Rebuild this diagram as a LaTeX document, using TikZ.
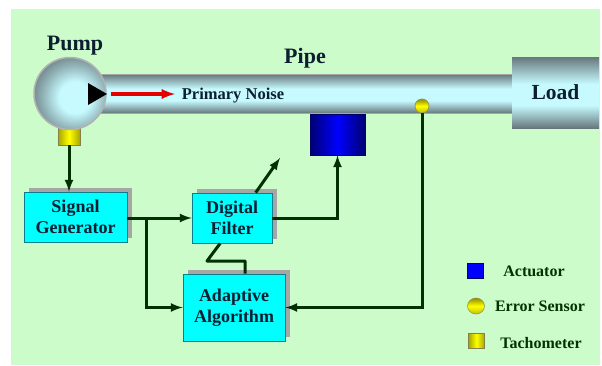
\documentclass[tikz,border=0pt]{standalone}
\usepackage{fontspec}
\setmainfont{Liberation Serif}
\usetikzlibrary{shadows,shapes.geometric}
\definecolor{bggreen}{HTML}{CCFCCA}
\definecolor{wiregreen}{HTML}{023002}
\definecolor{steeldark}{HTML}{66787C}
\definecolor{steellight}{HTML}{C6FAFF}
\definecolor{inkblue}{HTML}{0C1E30}
\definecolor{boxcyan}{HTML}{00FFFF}
\definecolor{boxedge}{HTML}{0A7F8C}
\pgfdeclareradialshading{pumpball}{\pgfpoint{4bp}{-3bp}}{color(0bp)=(steellight); color(11bp)=(steellight); color(22bp)=(steeldark!55!steellight); color(32bp)=(steeldark); color(100bp)=(steeldark)}
\pgfdeclarehorizontalshading{actshade}{100bp}{color(0bp)=(blue!45!black); color(25bp)=(blue!45!black); color(50bp)=(blue); color(75bp)=(blue!45!black); color(100bp)=(blue!45!black)}
\pgfdeclareverticalshading{steelbar}{100bp}{color(0bp)=(steeldark); color(25bp)=(steeldark); color(41bp)=(steellight); color(56bp)=(steellight); color(75bp)=(steeldark); color(100bp)=(steeldark)}
\tikzset{
	block/.style={draw=boxedge, line width=0.8pt, fill=boxcyan, align=center, inner sep=0pt, text=inkblue, font=\bfseries\fontsize{18}{21}\selectfont, drop shadow={shadow xshift=5pt, shadow yshift=4pt, fill=black!35, opacity=1}},
	steel/.style={rectangle, inner sep=0pt, shading=steelbar},
	wire/.style={draw=wiregreen, line width=3pt},
	wirearrow/.style={wire, -latex},
	caption/.style={text=inkblue, font=\bfseries\fontsize{#1}{#1}\selectfont},
	legend/.style={text=black!80!green, font=\bfseries\fontsize{16}{16}\selectfont},
}
\begin{document}
\begin{tikzpicture}[x=1pt, y=-1pt]
		%%%%% START %%%%%
		\useasboundingbox (0, 0) rectangle (602, 365);
		\fill[white] (0, 0) rectangle (602, 365);
		\fill[bggreen] (11, 9) rectangle (600, 365);
		
		\node[steel, draw=black!35, line width=0.8pt, minimum width=412pt, minimum height=39pt] (pipe) at (306, 93.5) {};
		\node[steel, minimum width=87pt, minimum height=71pt, font=\bfseries\fontsize{21.5}{22}\selectfont, text=inkblue] (load) at (555.5, 92.5) {Load};
		
		\node[draw=black!55!yellow, line width=0.8pt, inner sep=0pt, minimum width=22pt, minimum height=17pt, left color=black!35!yellow, right color=black!35!yellow, middle color=yellow] (tacho) at (69, 136.5) {};
		\node[circle, draw=black!30, line width=1.5pt, inner sep=0pt, minimum size=72pt, shading=pumpball] (pump) at (70, 93.5) {};
		\fill[black] (88, 83) -- (88, 105) -- (107, 94) -- cycle;
		\draw[red!90!black, line width=3.5pt, -latex] (111, 94) -- (175, 94);
		
		\node[caption=16.5] at (233, 96) {Primary Noise};
		\node[caption=22] at (75, 46) {Pump};
		\node[caption=22] at (305, 58) {Pipe};
		
		\node[draw=black!60!blue, line width=0.6pt, inner sep=0pt, minimum width=55pt, minimum height=41pt, shading=actshade] (actuator) at (337.5, 134.5) {};
		\node[circle, draw=black!45!yellow, line width=0.8pt, inner sep=0pt, minimum size=14pt, top color=black!45!yellow, bottom color=black!25!yellow, middle color=yellow] (sensor) at (422, 106) {};
		
		\node[block, minimum width=103pt, minimum height=50pt] (signal) at (75.5, 217) {Signal\\Generator};
		\node[block, minimum width=80pt, minimum height=50pt] (filter) at (232, 218) {Digital\\Filter};
		\node[block, minimum width=102pt, minimum height=67pt] (adaptive) at (234, 307.5) {Adaptive\\Algorithm};
		
		\coordinate (branch) at (146, 217);
		\coordinate (elbow) at (207, 261);
		\coordinate (tilt) at (280, 158);
		
		\draw[wirearrow] (tacho.south) -- (tacho.south |- signal.north);
		\draw[wirearrow] (signal.east |- filter.west) -- (filter.west);
		\draw[wirearrow] (branch |- filter.west) |- (adaptive.west);
		\draw[wirearrow] (filter.east) -| (actuator.south);
		\draw[wirearrow] (filter.47) -- (tilt);
		\draw[wire, line join=round] (filter.-115) -- (elbow) -- (elbow -| adaptive.72) -- (adaptive.72);
		\draw[wirearrow] (sensor.south) |- (adaptive.east);
		
		\node[draw=black!60!blue, line width=0.6pt, inner sep=0pt, minimum width=16pt, minimum height=15pt, fill=blue] (keyactuator) at (475.5, 270.5) {};
		\node[legend] at (534, 271) {Actuator};
		\node[ellipse, draw=black!45!yellow, line width=0.6pt, inner sep=0pt, minimum width=17pt, minimum height=16pt, top color=black!45!yellow, bottom color=black!25!yellow, middle color=yellow] (keysensor) at (476, 306) {};
		\node[legend] at (540, 306) {Error Sensor};
		\node[draw=black!55!yellow, line width=0.6pt, inner sep=0pt, minimum width=16pt, minimum height=15pt, left color=black!35!yellow, right color=black!35!yellow, middle color=yellow] (keytacho) at (476.5, 340.5) {};
		\node[legend] at (541, 343) {Tachometer};
		
		%%%%% END %%%%%
	\end{tikzpicture}
\end{document}
